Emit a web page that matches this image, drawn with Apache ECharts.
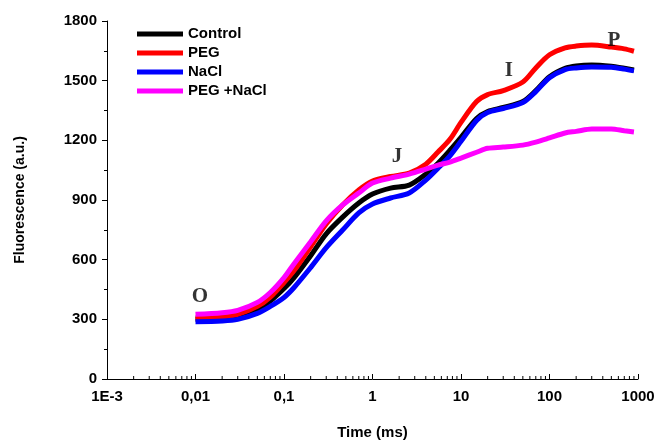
<!DOCTYPE html>
<html>
<head>
<meta charset="utf-8">
<script src="https://cdn.jsdelivr.net/npm/echarts@6/dist/echarts.min.js"></script>
<style>html,body{margin:0;padding:0;background:#fff}#c{width:666px;height:445px}</style>
</head>
<body>
<div id="c"></div>
<script>
const times = [0.01, 0.02, 0.03, 0.05, 0.07, 0.1, 0.13, 0.2, 0.3, 0.46, 0.7, 1, 1.6, 2.6, 4, 5.5, 7.5, 10, 15, 20, 30, 50, 70, 100, 150, 200, 300, 500, 700, 900];
const control = [300, 305, 315, 350, 392, 455, 510, 620, 730, 814, 885, 930, 960, 975, 1030, 1085, 1150, 1215, 1310, 1345, 1365, 1395, 1450, 1520, 1562, 1574, 1579, 1572, 1562, 1554];
const peg = [307, 313, 325, 365, 412, 485, 545, 665, 780, 875, 950, 995, 1018, 1035, 1080, 1141, 1205, 1290, 1395, 1430, 1450, 1493, 1564, 1630, 1665, 1674, 1679, 1669, 1660, 1648];
const nacl = [288, 292, 300, 330, 365, 410, 460, 560, 660, 749, 835, 880, 910, 935, 1000, 1060, 1122, 1195, 1300, 1340, 1360, 1390, 1445, 1515, 1556, 1564, 1569, 1567, 1558, 1549];
const pegNacl = [325, 333, 345, 385, 435, 510, 580, 690, 795, 875, 935, 985, 1010, 1030, 1055, 1075, 1091, 1111, 1140, 1160, 1166, 1176, 1191, 1212, 1237, 1245, 1257, 1257, 1248, 1242];
const seriesNames = ['Control', 'PEG', 'NaCl', 'PEG +NaCl'];
const xTickValues = [0.001, 0.01, 0.1, 1, 10, 100, 1000];
const xTickLabels = ['1E-3', '0,01', '0,1', '1', '10', '100', '1000'];
const minorX = [];
[0.001, 0.01, 0.1, 1, 10, 100].forEach(d => { for (let k = 2; k <= 9; k++) minorX.push(+(d * k).toPrecision(3)); });
const phaseLabels = [['O', 0.0112, 412], ['J', 1.89, 1116], ['I', 34.8, 1553], ['P', 535, 1704]];

const colors = ['#000000', '#ff0000', '#0000ff', '#ff00ff'];
const values = [control, peg, nacl, pegNacl];

const chart = echarts.init(document.getElementById('c'));
const lineSeries = values.map((v, i) => ({
  name: seriesNames[i],
  type: 'line',
  data: times.map((t, j) => [t, v[j]]),
  smooth: 0.3,
  showSymbol: false,
  symbol: 'none',
  lineStyle: { width: 5, color: colors[i] },
  itemStyle: { color: colors[i] },
  z: 3 + i
}));

chart.setOption({
  animation: false,
  grid: { left: 107, right: 28, top: 21, bottom: 66 },
  legend: {
    orient: 'vertical', left: 132, top: 21,
    icon: 'rect', itemWidth: 46, itemHeight: 5, itemGap: 3,
    textStyle: { fontFamily: 'Liberation Sans, Arial', fontWeight: 'bold', fontSize: 15, color: '#000', lineHeight: 16 },
    data: seriesNames
  },
  xAxis: {
    type: 'log', min: 0.001, max: 1000, logBase: 10,
    name: 'Time (ms)', nameLocation: 'middle', nameGap: 46,
    nameTextStyle: { fontFamily: 'Liberation Sans, Arial', fontWeight: 'bold', fontSize: 15, color: '#000' },
    axisLine: { lineStyle: { color: '#000', width: 1 } },
    axisTick: { inside: true, length: 5, lineStyle: { color: '#000' } },
    axisLabel: {
      fontFamily: 'Liberation Sans, Arial', fontWeight: 'bold', fontSize: 15, color: '#000', margin: 10,
      formatter: v => { const i = xTickValues.findIndex(t => Math.abs(Math.log10(t) - Math.log10(v)) < 1e-6); return i >= 0 ? xTickLabels[i] : ''; }
    },
    splitLine: { show: false }
  },
  yAxis: {
    type: 'value', min: 0, max: 1800, interval: 300,
    name: 'Fluorescence (a.u.)', nameLocation: 'middle', nameGap: 80,
    nameTextStyle: { fontFamily: 'Liberation Sans, Arial', fontWeight: 'bold', fontSize: 14, color: '#000' },
    axisLine: { show: true, lineStyle: { color: '#000', width: 1 } },
    axisTick: { show: true, length: 5, lineStyle: { color: '#000' } },
    minorTick: { show: true, splitNumber: 2, length: 3, lineStyle: { color: '#000' } },
    axisLabel: { fontFamily: 'Liberation Sans, Arial', fontWeight: 'bold', fontSize: 15, color: '#000', margin: 10, formatter: v => String(v) },
    splitLine: { show: false }
  },
  series: [
    ...lineSeries,
    {
      type: 'custom', silent: true, z: 2,
      data: minorX.map(t => [t, 0]),
      renderItem: (params, api) => {
        const p = api.coord([api.value(0), 0]);
        return { type: 'line', shape: { x1: p[0], y1: p[1], x2: p[0], y2: p[1] - 3 }, style: { stroke: '#000', lineWidth: 1 } };
      }
    },
    {
      type: 'scatter', silent: true, symbolSize: 0, z: 10,
      data: phaseLabels.map(d => ({ value: [d[1], d[2]], name: d[0] })),
      label: {
        show: true, position: 'inside', formatter: p => p.name,
        fontFamily: 'Liberation Serif, Times New Roman', fontWeight: 'bold', fontSize: 21, color: '#000'
      }
    }
  ]
});
</script>
</body>
</html>
